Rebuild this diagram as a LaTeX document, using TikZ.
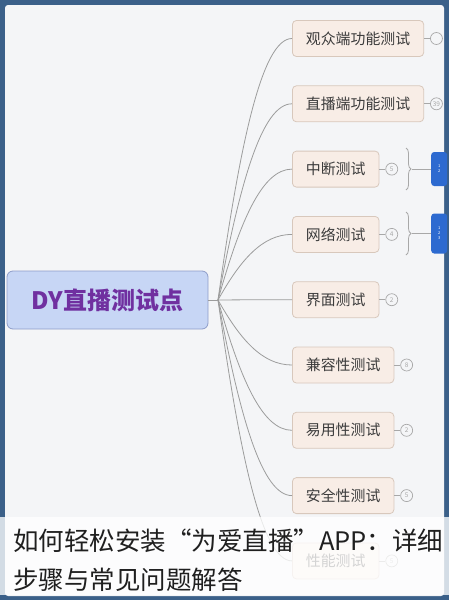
\documentclass[tikz,border=0pt]{standalone}
\usepackage{fontspec}
\setmainfont{Noto Sans CJK SC}
\usetikzlibrary{positioning}
\usetikzlibrary{calc}
\usetikzlibrary{decorations.pathreplacing}

\definecolor{framebg}{HTML}{3B6089}
\definecolor{panelbg}{HTML}{F4F5F7}
\definecolor{rootfill}{HTML}{C7D6F5}
\definecolor{rootline}{HTML}{8E9DC9}
\definecolor{rootpurple}{HTML}{7030A0}
\definecolor{topicfill}{HTML}{F8EDE6}
\definecolor{topicline}{HTML}{D8C8BC}
\definecolor{topictext}{HTML}{3C3C3C}
\definecolor{branchline}{HTML}{9C9C9C}
\definecolor{countline}{HTML}{A8A8A8}
\definecolor{subblue}{HTML}{2D6AD0}

\begin{document}
\begin{tikzpicture}[x=1pt,y=-1pt,
  topic/.style={draw=topicline,fill=topicfill,rounded corners=4pt,line width=0.8pt,
    inner xsep=13.5pt,minimum height=36pt,anchor=west,text=topictext,
    font=\fontsize{14.9}{16}\selectfont},
  count/.style={circle,draw=countline,line width=0.7pt,minimum size=12pt,inner sep=0pt,
    text=countline,font=\fontsize{6.5}{7}\selectfont},
  branch/.style={draw=branchline,line width=0.8pt},
  subbox/.style={fill=subblue,rounded corners=3pt,anchor=west,minimum width=16pt,
    text=white,align=left,inner xsep=3pt,font=\fontsize{4}{5}\selectfont},
  caption/.style={anchor=west,inner sep=0pt,text=black!88,font=\fontsize{25.5}{27}\selectfont}]
  \useasboundingbox (0,0) rectangle (449,600);

  %background
  \fill[framebg] (0,0) rectangle (449,600);
  \fill[panelbg,rounded corners=3pt] (5,5) rectangle (444,596);

  %root
  \node[draw=rootline,fill=rootfill,rounded corners=6pt,line width=0.8pt,
    minimum width=201pt,minimum height=58pt,text=rootpurple,
    font=\fontsize{24}{26}\selectfont\bfseries] (root) at (107.5,300) {DY直播测试点};
  \coordinate (hub) at (218,300);

  %topics
  \node[topic] (t1) at (292,38.5) {观众端功能测试};
  \node[topic] (t2) at (292,103.8) {直播端功能测试};
  \node[topic] (t3) at (292,169.1) {中断测试};
  \node[topic] (t4) at (292,234.4) {网络测试};
  \node[topic] (t5) at (292,299.7) {界面测试};
  \node[topic] (t6) at (292,365) {兼容性测试};
  \node[topic] (t7) at (292,430.3) {易用性测试};
  \node[topic] (t8) at (292,495.6) {安全性测试};
  \node[topic] (t9) at (292,560.9) {性能测试};

  %branches
  \draw[branch] (root.east) -- (hub);
  \foreach \t in {t1,t2,t3,t4,t5,t6,t7,t8,t9}
    \draw[branch] (hub) .. controls ($(hub)!.6!(hub|-\t.west)+(22,0)$) and ($(\t.west)+(-30,0)$) .. (\t.west);

  %counts
  \foreach \i/\n in {1/,2/39,3/5,4/4,5/2,6/8,7/2,8/5,9/5}{
    \node[count,right=6pt of t\i] (c\i) {\n};
    \draw[countline,line width=0.7pt] (t\i.east) -- (c\i.west);
  }

  %braces and subtopics
  \draw[countline,line width=0.8pt,decorate,decoration={brace,amplitude=5pt}] (406,148) -- (406,190);
  \coordinate (b3) at (412,169);
  \node[subbox,minimum height=34pt] (s3) at (431,169) {1\\2};
  \draw[countline,line width=0.8pt] (b3) -- (s3.west);
  \draw[countline,line width=0.8pt,decorate,decoration={brace,amplitude=5pt}] (406,212) -- (406,255);
  \coordinate (b4) at (412,233.5);
  \node[subbox,minimum height=40pt] (s4) at (431,233.5) {1\\2\\3};
  \draw[countline,line width=0.8pt] (b4) -- (s4.west);

  %caption band
  \fill[white,opacity=0.78] (0,517) rectangle (449,595);
  \node[caption] (cap1) at (13,541) {如何轻松安装“为爱直播”APP：详细};
  \node[caption] (cap2) at (13,580) {步骤与常见问题解答};
\end{tikzpicture}
\end{document}
